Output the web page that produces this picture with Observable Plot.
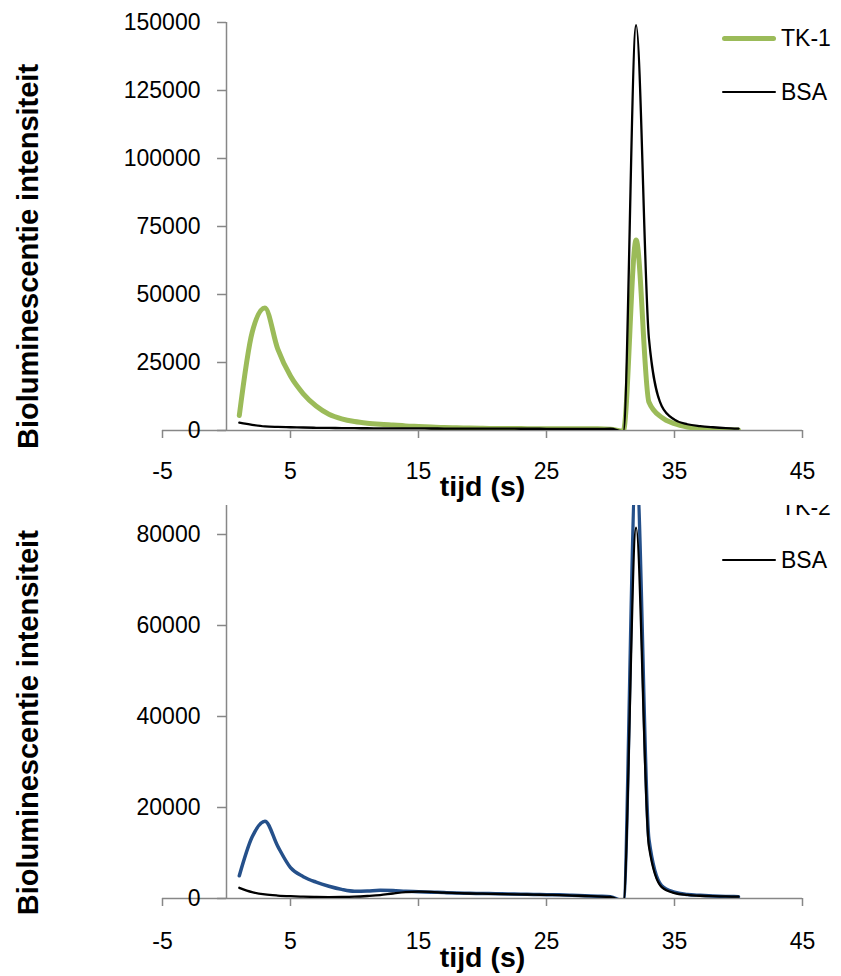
<!DOCTYPE html>
<html>
<head>
<meta charset="utf-8">
<script src="https://cdn.jsdelivr.net/npm/d3@7"></script>
<script src="https://cdn.jsdelivr.net/npm/@observablehq/plot@0.6"></script>
<style>
  body { margin: 0; background: #fff; overflow: hidden; }
  #wrap { position: relative; width: 841px; height: 976px; font-family: "Liberation Sans", Arial, sans-serif; }
  .panel { position: absolute; left: 0; }
  .legend { position: absolute; left: 722px; font-size: 23px; color: #000; }
  .item { position: absolute; left: 0; height: 30px; display: flex; align-items: center; white-space: nowrap; transform: translateY(-15px); }
  .swatch { width: 54px; border-radius: 3px; margin-right: 5px; }
</style>
</head>
<body>
<div id="wrap"></div>
<script>
// Time in seconds (one reading per second)
const seconds = d3.range(1, 41);

// Panel 1: TK-1 versus BSA
const tk1 = [5500, 36000, 45000, 30000, 20000, 13500, 9000, 6000, 4300, 3300,
             2700, 2300, 2000, 1700, 1500, 1300, 1100, 1000, 900, 800,
             750, 700, 700, 650, 650, 600, 600, 600, 600, 500,
             -200, 70000, 10500, 4800, 2500, 1300, 700, 400, 250, 200];
const bsa1 = [2900, 2100, 1500, 1300, 1200, 1100, 1000, 950, 900, 850,
              820, 800, 780, 760, 750, 740, 720, 700, 690, 680,
              670, 660, 650, 640, 630, 620, 620, 610, 600, 650,
              -300, 149000, 34000, 9000, 4000, 2300, 1600, 1200, 900, 700];

// Panel 2: TK-2 versus BSA
const tk2 = [5000, 13500, 17000, 11500, 6800, 4800, 3600, 2700, 2000, 1600,
             1650, 1800, 1750, 1600, 1500, 1400, 1300, 1200, 1150, 1100,
             1050, 1000, 950, 900, 850, 800, 700, 600, 500, 400,
             -500, 95000, 13000, 2800, 1400, 900, 700, 550, 450, 400];
const bsa2 = [2350, 1400, 900, 650, 500, 400, 330, 300, 330, 400,
              550, 750, 1100, 1400, 1500, 1450, 1300, 1200, 1100, 1050,
              1000, 950, 900, 850, 800, 750, 650, 550, 450, 350,
              -600, 81500, 11500, 2500, 1200, 800, 600, 500, 450, 400];

// Axis ticks
const xTicks = [-5, 5, 15, 25, 35, 45];
const yTicksTop = [0, 25000, 50000, 75000, 100000, 125000, 150000];
const yTicksBottom = [0, 20000, 40000, 60000, 80000];

const xLabel = "tijd (s)";
const yLabel = "Bioluminescentie intensiteit";

const GRAY = "#878787";
const GREEN = "#9bbb59";
const BLUE = "#25508a";

const toRows = (values) => seconds.map((t, i) => ({t, v: values[i]}));

function panel({series, yMax, yTicks, height, marginTop, marginBottom, labelPad, titleDy, yTitleDy}) {
  return Plot.plot({
    width: 841,
    height,
    marginLeft: 162,
    marginRight: 39,
    marginTop,
    marginBottom,
    style: {background: "white", fontFamily: "'Liberation Sans', Arial, sans-serif", fontSize: "23px", color: "#000", overflow: "visible"},
    x: {domain: [-5, 45]},
    y: {domain: [0, yMax], axis: null},
    marks: [
      // horizontal axis line across the full range
      Plot.ruleY([0], {stroke: GRAY, strokeWidth: 1.5}),
      // vertical axis crossing at t = 0
      Plot.ruleX([0], {y1: 0, y2: yMax, stroke: GRAY, strokeWidth: 1.5}),
      Plot.ruleY(yTicks, {x1: -0.7, x2: 0, stroke: GRAY, strokeWidth: 1.5}),
      Plot.text(yTicks, {x: 0, y: d => d, dx: -26, textAnchor: "end", text: d => String(d), fontSize: 23}),
      Plot.axisX(xTicks, {label: null, tickSize: 8, tickPadding: labelPad, stroke: GRAY, strokeWidth: 1.5, tickFormat: d => String(d), fontSize: 23}),
      ...series.map(s => Plot.line(toRows(s.values), {x: "t", y: "v", stroke: s.color, strokeWidth: s.width, curve: "monotone-x", strokeLinejoin: "round", strokeLinecap: "round", clip: "frame"})),
      Plot.text([xLabel], {frameAnchor: "bottom", dy: titleDy, fontSize: 28.5, fontWeight: "bold", textAnchor: "middle", lineAnchor: "middle"}),
      Plot.text([yLabel], {frameAnchor: "left", dx: -134, dy: yTitleDy, rotate: -90, fontSize: 29, fontWeight: "bold", textAnchor: "middle", lineAnchor: "middle"})
    ]
  });
}

function legend(items, top, z) {
  const box = document.createElement("div");
  box.className = "legend";
  box.style.top = top + "px";
  box.style.zIndex = z;
  items.forEach(it => {
    const row = document.createElement("div");
    row.className = "item";
    row.style.top = it.y + "px";
    const sw = document.createElement("span");
    sw.className = "swatch";
    sw.style.height = it.width + "px";
    sw.style.background = it.color;
    if (it.shift) sw.style.transform = `translateY(${it.shift}px)`;
    const label = document.createElement("span");
    label.textContent = it.name;
    row.append(sw, label);
    box.append(row);
  });
  return box;
}

const wrap = document.getElementById("wrap");

const top1 = panel({
  series: [{values: tk1, color: GREEN, width: 5}, {values: bsa1, color: "#000", width: 2.3}],
  yMax: 150000, yTicks: yTicksTop, height: 505, marginTop: 22, marginBottom: 75,
  labelPad: 24, titleDy: 56, yTitleDy: 30
});
top1.classList.add("panel");
top1.style.top = "0px";
top1.style.zIndex = 2;

const bottom = panel({
  series: [{values: tk2, color: BLUE, width: 3.5}, {values: bsa2, color: "#000", width: 2.3}],
  yMax: 90000, yTicks: yTicksBottom, height: 496, marginTop: 8.5, marginBottom: 78,
  labelPad: 26, titleDy: 59, yTitleDy: 29
});
bottom.classList.add("panel");
bottom.style.top = "480px";
bottom.style.zIndex = 0;

wrap.append(bottom, top1);
wrap.append(legend([
  {name: "TK-1", color: GREEN, width: 5, y: 38},
  {name: "BSA", color: "#000", width: 2.5, y: 92}
], 0, 3));
wrap.append(legend([
  {name: "TK-2", color: BLUE, width: 3, y: 27, shift: -5},
  {name: "BSA", color: "#000", width: 2.5, y: 80}
], 480, 1));
</script>
</body>
</html>
